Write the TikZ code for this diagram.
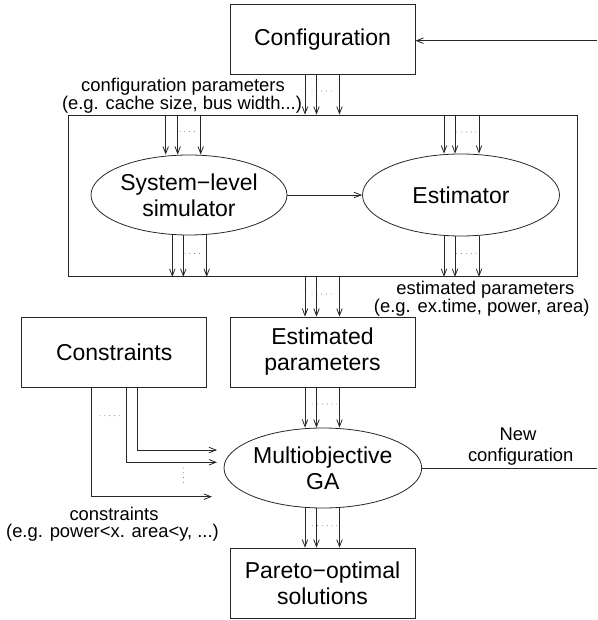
\documentclass[tikz,border=0pt]{standalone}
\usepackage{fontspec}
\setmainfont{Liberation Sans}
\usetikzlibrary{arrows.meta,shapes.geometric}
\begin{document}
\begin{tikzpicture}[x=1pt,y=-1pt,
  line/.style={draw=black!85, line width=0.8pt},
  arr/.style={line, -{Straight Barb[length=7pt,width=5.5pt]}},
  bigfont/.style={font=\fontsize{23}{26}\selectfont},
  box/.style={line, rectangle, inner sep=0pt, minimum width=185pt, minimum height=70pt, align=center, bigfont},
  oval/.style={line, ellipse, inner sep=0pt, align=center, bigfont},
  lbl/.style={font=\fontsize{18.4}{18.4}\selectfont, anchor=base, inner sep=0pt},
  dotrow/.style={draw=black!70, line width=0.9pt, line cap=round, dash pattern=on 0pt off 4.8pt},
]
\useasboundingbox (0,0) rectangle (597,620);

% nodes
\node[box, minimum height=69.5pt] (cfg) at (322.5,39.3) {Configuration};
\node[line, rectangle, inner sep=0pt, minimum width=509pt, minimum height=161.5pt] (big) at (322.5,195.75) {};
\node[oval, minimum width=196pt, minimum height=80pt] (sim) at (189,195) {System−level\\simulator};
\node[oval, minimum width=197pt, minimum height=82pt] (est) at (461,195) {Estimator};
\node[box] (ep) at (322.5,352) {Estimated\\parameters};
\node[box] (con) at (114.2,352) {Constraints};
\node[oval, minimum width=197.7pt, minimum height=80pt] (ga) at (322.85,468) {Multiobjective\\GA};
\node[box, minimum height=70.3pt] (par) at (322.5,583.2) {Pareto−optimal\\solutions};

% labels
\node[lbl] (cp1) at (183,91.7) {configuration parameters};
\node[lbl] (cp2) at (182,110) {(e.g. cache size, bus width...)};
\node[lbl] (el1) at (485.3,294) {estimated parameters};
\node[lbl] (el2) at (481.7,312.7) {(e.g. ex.time, power, area)};
\node[lbl] (cl1) at (114,520) {constraints};
\node[lbl] (cl2) at (112.5,537.5) {(e.g. power<x. area<y, ...)};
\node[lbl] (nc1) at (518,440) {New};
\node[lbl] (nc2) at (520.7,461) {configuration};

% free ends
\coordinate (rin) at (597,40.7);
\coordinate (rout) at (597,468);
\coordinate (k1) at (217,450);
\coordinate (k2) at (217,462.3);
\coordinate (k3) at (212,496.7);

% config -> big box
\foreach \s in {-17.5,-6,17}{
  \path ([xshift=\s pt]cfg.south) coordinate (t);
  \draw[arr] (t) -- (t |- big.north);
}
% big box top -> simulator
\foreach \s in {-23.3,-11.3,11.7}{
  \path ([xshift=\s pt]sim.north) coordinate (t);
  \draw[arr] (t |- big.north) -- (t);
}
% simulator -> big box bottom
\foreach \s in {-16.7,-5.7,17.7}{
  \path ([xshift=\s pt]sim.south) coordinate (t);
  \draw[arr] (t) -- (t |- big.south);
}
% big box top -> estimator
\foreach \s in {-17,-6,18}{
  \path ([xshift=\s pt]est.north) coordinate (t);
  \draw[arr] (t |- big.north) -- (t);
}
% estimator -> big box bottom
\foreach \s in {-17,-6,18}{
  \path ([xshift=\s pt]est.south) coordinate (t);
  \draw[arr] (t) -- (t |- big.south);
}
% big box -> estimated parameters
\foreach \s in {-17.5,-6,17}{
  \path ([xshift=\s pt]ep.north) coordinate (t);
  \draw[arr] (t |- big.south) -- (t);
}
% estimated parameters -> GA
\foreach \s in {-17.5,-6,17}{
  \path ([xshift=\s pt]ep.south) coordinate (t);
  \draw[arr] (t) -- (t |- ga.north);
}
% GA -> Pareto
\foreach \s in {-17.5,-6,17}{
  \path ([xshift=\s pt]par.north) coordinate (t);
  \draw[arr] (t |- ga.south) -- (t);
}

% simulator -> estimator
\draw[arr] (sim.east) -- (est.west);
% input to configuration
\draw[arr] (rin) -- (rin -| cfg.east);
% new configuration out
\draw[line] (ga.east) -- (ga.east -| rout);

% constraints -> GA
\draw[arr] ([xshift=23.1pt]con.south) |- (k1);
\draw[arr] ([xshift=11.8pt]con.south) |- (k2);
\draw[arr] ([xshift=-22.5pt]con.south) |- (k3);

% dots
\draw[dotrow] (312,91) -- (334,91);
\draw[dotrow] (180,131.7) -- (199,131.7);
\draw[dotrow] (456.7,132) -- (476,132);
\draw[dotrow] (185,253.3) -- (204,253.3);
\draw[dotrow] (456.7,253.3) -- (476,253.3);
\draw[dotrow] (312,294) -- (335,294);
\draw[dotrow] (312.7,404) -- (336.7,404);
\draw[dotrow] (312.7,525.7) -- (336.7,525.7);
\draw[dotrow] (100,415.7) -- (119.3,415.7);
\draw[dotrow] (183.3,468) -- (183.3,487);
\end{tikzpicture}
\end{document}
